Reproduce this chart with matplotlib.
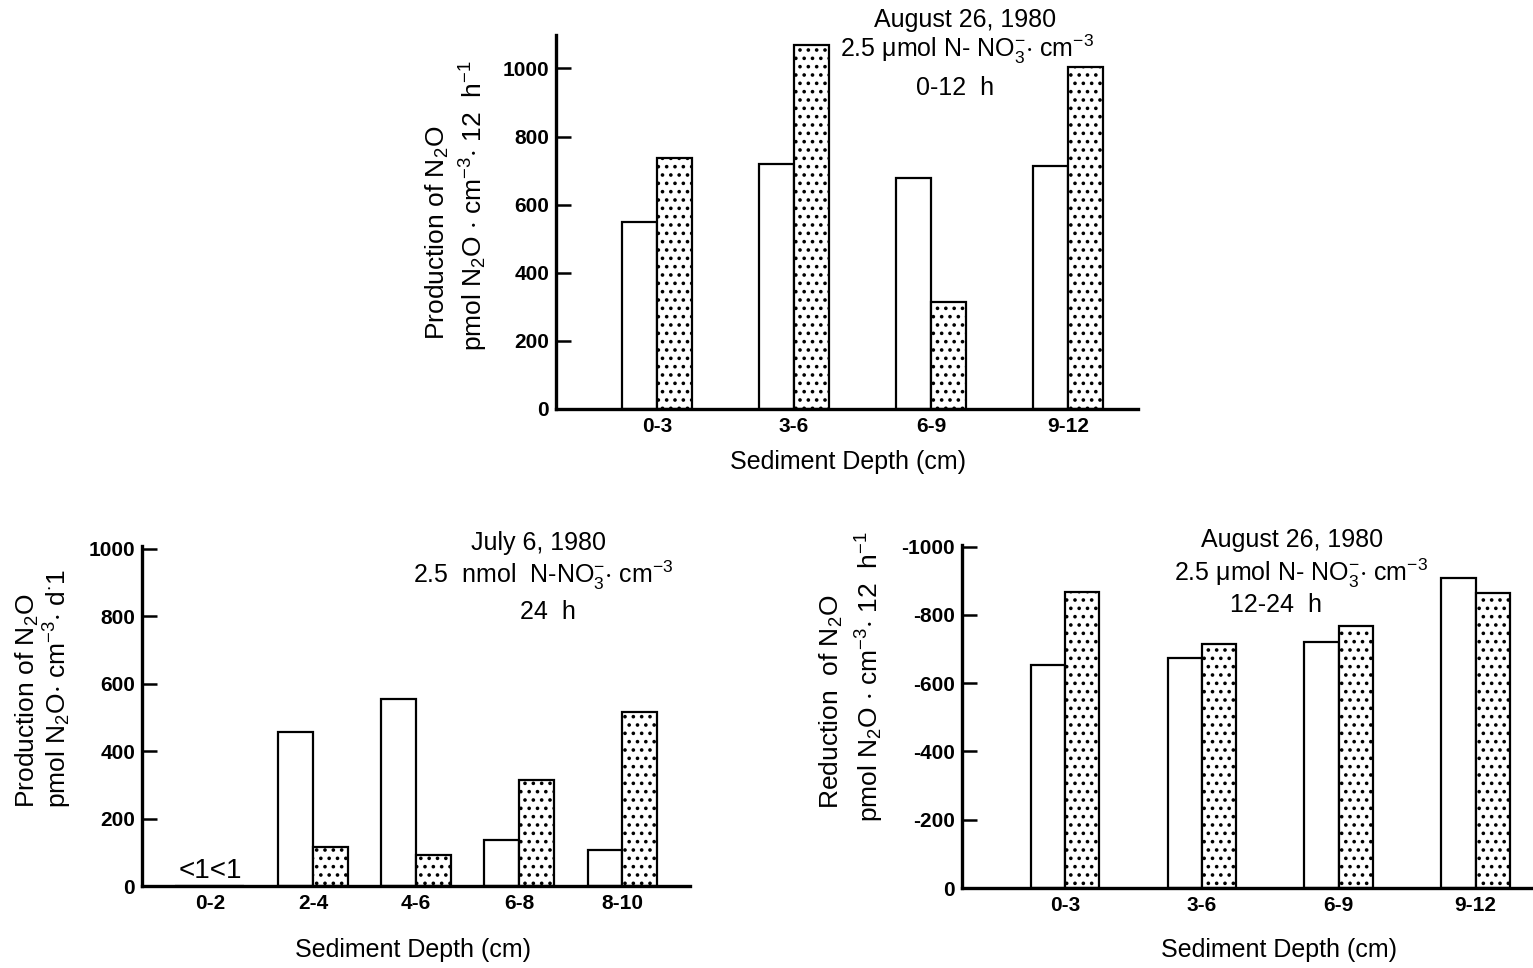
import numpy as np
import matplotlib.pyplot as plt

plt.rcParams['font.family'] = ['Liberation Sans', 'DejaVu Sans']
plt.rcParams['mathtext.fontset'] = 'custom'
plt.rcParams['mathtext.rm'] = 'Liberation Sans'
plt.rcParams['mathtext.it'] = 'Liberation Sans:italic'
plt.rcParams['mathtext.default'] = 'regular'
plt.rcParams['hatch.linewidth'] = 1.4

# top panel: August 26, 1980, 0-12 h (production)
top_cats = ['0-3', '3-6', '6-9', '9-12']
top_open = [549, 718, 679, 713]
top_dotted = [736, 1068, 315, 1005]

# bottom left: July 6, 1980, 24 h (production)
left_cats = ['0-2', '2-4', '4-6', '6-8', '8-10']
left_open = [1, 457, 555, 137, 106]
left_dotted = [1, 116, 91, 315, 516]

# bottom right: August 26, 1980, 12-24 h (reduction)
right_cats = ['0-3', '3-6', '6-9', '9-12']
right_open = [653, 673, 722, 909]
right_dotted = [866, 714, 768, 865]

prod_ticks = ['0', '200', '400', '600', '800', '1000']
red_ticks = ['0', '-200', '-400', '-600', '-800', '-1000']

fig = plt.figure(figsize=(15.33, 9.68), dpi=100)

ax_top = fig.add_axes([556/1533, 1 - 409/968, 582/1533, 374/968])
ax_left = fig.add_axes([142/1533, 1 - 886/968, 548/1533, 340/968])
ax_right = fig.add_axes([962/1533, 1 - 888/968, 571/1533, 343/968])


def draw_panel(ax, cats, open_vals, dot_vals, width, xlim, ylim, yticklabels,
               ylab1, ylab2, ypos1, ypos2, xlab_pos):
    x = np.arange(len(cats))
    ax.bar(x - width/2, open_vals, width, color='white', edgecolor='black', linewidth=1.6)
    ax.bar(x + width/2, dot_vals, width, color='white', edgecolor='black', linewidth=1.6,
           hatch='..')
    ax.set_xlim(*xlim)
    ax.set_ylim(*ylim)
    ax.set_xticks(x)
    ax.set_xticklabels(cats, fontsize=15, fontweight='bold')
    ax.set_yticks([0, 200, 400, 600, 800, 1000])
    ax.set_yticklabels(yticklabels, fontsize=15, fontweight='bold')
    ax.tick_params(axis='x', length=0, pad=6)
    ax.tick_params(axis='y', direction='in', length=11, width=1.8, pad=5)
    for side in ['top', 'right']:
        ax.spines[side].set_visible(False)
    for side in ['left', 'bottom']:
        ax.spines[side].set_linewidth(2.4)
    ax.text(xlab_pos[0], xlab_pos[1], 'Sediment Depth (cm)', transform=ax.transAxes,
            ha='center', va='center', fontsize=18)
    ax.text(ypos1[0], ypos1[1], ylab1, transform=ax.transAxes, rotation=90,
            ha='center', va='center', fontsize=19)
    ax.text(ypos2[0], ypos2[1], ylab2, transform=ax.transAxes, rotation=90,
            ha='center', va='center', fontsize=19)


draw_panel(ax_top, top_cats, top_open, top_dotted, 0.255, (-0.737, 3.51), (0, 1098),
           prod_ticks,
           'Production of N$_2$O',
           'pmol N$_2$O $\\cdot$ cm$^{-3}$$\\cdot$ 12  h$^{-1}$',
           (-0.203, 0.471), (-0.141, 0.543), (0.502, -0.142))

draw_panel(ax_left, left_cats, left_open, left_dotted, 0.335, (-0.66, 4.66), (0, 1008),
           prod_ticks,
           'Production of N$_2$O',
           'pmol N$_2$O$\\cdot$ cm$^{-3}$$\\cdot$ d$^{\\cdot}$1',
           (-0.21, 0.544), (-0.153, 0.579), (0.495, -0.188))
ax_left.text(0, 6, '<1<1', ha='center', va='bottom', fontsize=20)

draw_panel(ax_right, right_cats, right_open, right_dotted, 0.25, (-0.753, 3.42), (0, 1005),
           red_ticks,
           'Reduction  of N$_2$O',
           'pmol N$_2$O $\\cdot$ cm$^{-3}$$\\cdot$ 12  h$^{-1}$',
           (-0.229, 0.542), (-0.161, 0.615), (0.555, -0.181))

# condition notes
note_fs = 18
ax_top.text(0.703, 1.04, 'August 26, 1980', transform=ax_top.transAxes,
            ha='center', va='center', fontsize=note_fs)
ax_top.text(0.707, 0.962, '2.5 μmol N- NO$_3^{-}$$\\cdot$ cm$^{-3}$', transform=ax_top.transAxes,
            ha='center', va='center', fontsize=note_fs)
ax_top.text(0.686, 0.858, '0-12  h', transform=ax_top.transAxes,
            ha='center', va='center', fontsize=note_fs)

ax_left.text(0.724, 1.009, 'July 6, 1980', transform=ax_left.transAxes,
             ha='center', va='center', fontsize=note_fs)
ax_left.text(0.732, 0.915, '2.5  nmol  N-NO$_3^{-}$$\\cdot$ cm$^{-3}$', transform=ax_left.transAxes,
             ha='center', va='center', fontsize=note_fs)
ax_left.text(0.741, 0.806, '24  h', transform=ax_left.transAxes,
             ha='center', va='center', fontsize=note_fs)

ax_right.text(0.578, 1.015, 'August 26, 1980', transform=ax_right.transAxes,
              ha='center', va='center', fontsize=note_fs)
ax_right.text(0.593, 0.918, '2.5 μmol N- NO$_3^{-}$$\\cdot$ cm$^{-3}$', transform=ax_right.transAxes,
              ha='center', va='center', fontsize=note_fs)
ax_right.text(0.55, 0.825, '12-24  h', transform=ax_right.transAxes,
              ha='center', va='center', fontsize=note_fs)

fig.savefig('out.png', dpi=100)
